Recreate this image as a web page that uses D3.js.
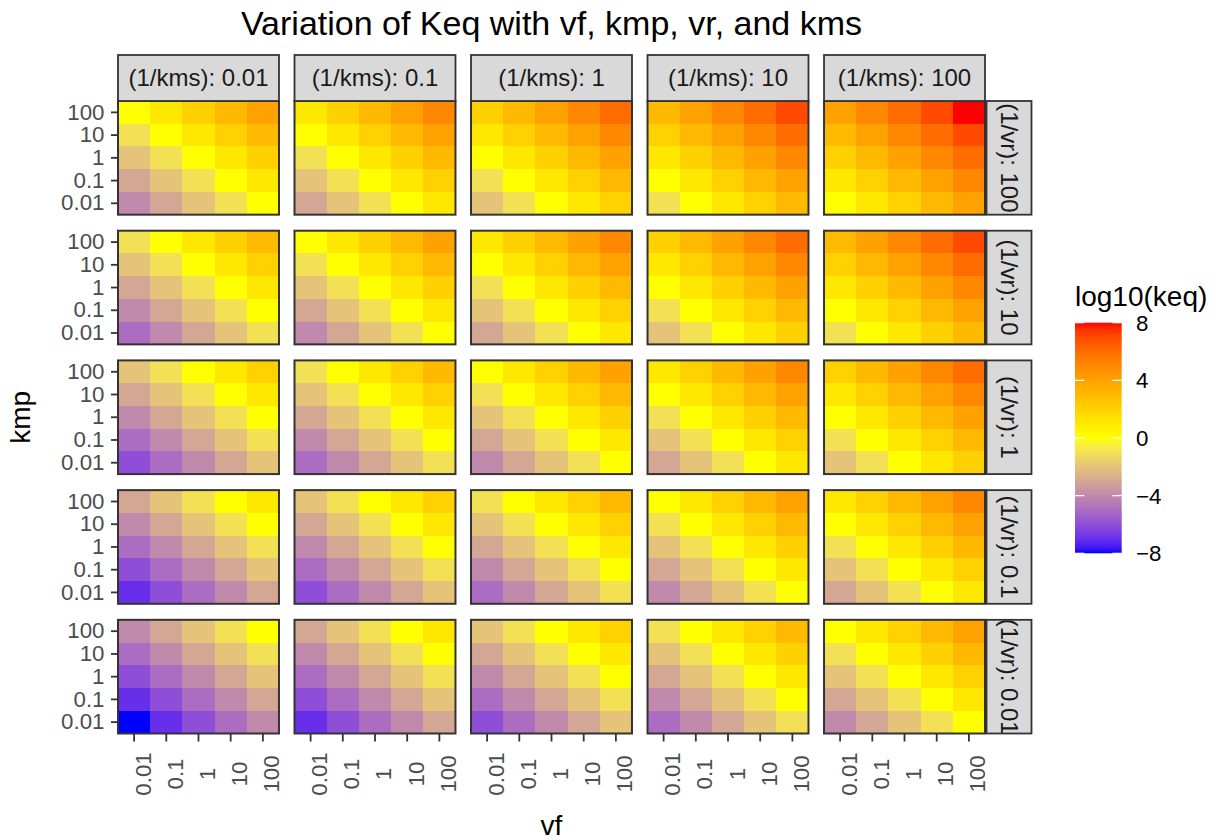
<!DOCTYPE html>
<html>
<head>
<meta charset="utf-8">
<script src="https://cdn.jsdelivr.net/npm/d3@7"></script>
<style>
body{margin:0;background:#fff}
svg{display:block;font-family:"Liberation Sans",Arial,sans-serif}
</style>
</head>
<body>
<script>

// Facets and axis levels
var vfLevels = ["0.01", "0.1", "1", "10", "100"];        // x, left to right
var kmpLevels = ["100", "10", "1", "0.1", "0.01"];       // y, top to bottom
var kmsFacets = ["0.01", "0.1", "1", "10", "100"];       // (1/kms), columns
var vrFacets = ["100", "10", "1", "0.1", "0.01"];        // (1/vr), rows
var legendBreaks = [-8, -4, 0, 4, 8];

// log10(keq) read off the tiles: one row per (1/vr, kmp) from the top,
// one column per (1/kms, vf) from the left
var logKeq = [
    [ 0, 1, 2, 3, 4,   1, 2, 3, 4, 5,   2, 3, 4, 5, 6,   3, 4, 5, 6, 7,   4, 5, 6, 7, 8],
    [-1, 0, 1, 2, 3,   0, 1, 2, 3, 4,   1, 2, 3, 4, 5,   2, 3, 4, 5, 6,   3, 4, 5, 6, 7],
    [-2,-1, 0, 1, 2,  -1, 0, 1, 2, 3,   0, 1, 2, 3, 4,   1, 2, 3, 4, 5,   2, 3, 4, 5, 6],
    [-3,-2,-1, 0, 1,  -2,-1, 0, 1, 2,  -1, 0, 1, 2, 3,   0, 1, 2, 3, 4,   1, 2, 3, 4, 5],
    [-4,-3,-2,-1, 0,  -3,-2,-1, 0, 1,  -2,-1, 0, 1, 2,  -1, 0, 1, 2, 3,   0, 1, 2, 3, 4],

    [-1, 0, 1, 2, 3,   0, 1, 2, 3, 4,   1, 2, 3, 4, 5,   2, 3, 4, 5, 6,   3, 4, 5, 6, 7],
    [-2,-1, 0, 1, 2,  -1, 0, 1, 2, 3,   0, 1, 2, 3, 4,   1, 2, 3, 4, 5,   2, 3, 4, 5, 6],
    [-3,-2,-1, 0, 1,  -2,-1, 0, 1, 2,  -1, 0, 1, 2, 3,   0, 1, 2, 3, 4,   1, 2, 3, 4, 5],
    [-4,-3,-2,-1, 0,  -3,-2,-1, 0, 1,  -2,-1, 0, 1, 2,  -1, 0, 1, 2, 3,   0, 1, 2, 3, 4],
    [-5,-4,-3,-2,-1,  -4,-3,-2,-1, 0,  -3,-2,-1, 0, 1,  -2,-1, 0, 1, 2,  -1, 0, 1, 2, 3],

    [-2,-1, 0, 1, 2,  -1, 0, 1, 2, 3,   0, 1, 2, 3, 4,   1, 2, 3, 4, 5,   2, 3, 4, 5, 6],
    [-3,-2,-1, 0, 1,  -2,-1, 0, 1, 2,  -1, 0, 1, 2, 3,   0, 1, 2, 3, 4,   1, 2, 3, 4, 5],
    [-4,-3,-2,-1, 0,  -3,-2,-1, 0, 1,  -2,-1, 0, 1, 2,  -1, 0, 1, 2, 3,   0, 1, 2, 3, 4],
    [-5,-4,-3,-2,-1,  -4,-3,-2,-1, 0,  -3,-2,-1, 0, 1,  -2,-1, 0, 1, 2,  -1, 0, 1, 2, 3],
    [-6,-5,-4,-3,-2,  -5,-4,-3,-2,-1,  -4,-3,-2,-1, 0,  -3,-2,-1, 0, 1,  -2,-1, 0, 1, 2],

    [-3,-2,-1, 0, 1,  -2,-1, 0, 1, 2,  -1, 0, 1, 2, 3,   0, 1, 2, 3, 4,   1, 2, 3, 4, 5],
    [-4,-3,-2,-1, 0,  -3,-2,-1, 0, 1,  -2,-1, 0, 1, 2,  -1, 0, 1, 2, 3,   0, 1, 2, 3, 4],
    [-5,-4,-3,-2,-1,  -4,-3,-2,-1, 0,  -3,-2,-1, 0, 1,  -2,-1, 0, 1, 2,  -1, 0, 1, 2, 3],
    [-6,-5,-4,-3,-2,  -5,-4,-3,-2,-1,  -4,-3,-2,-1, 0,  -3,-2,-1, 0, 1,  -2,-1, 0, 1, 2],
    [-7,-6,-5,-4,-3,  -6,-5,-4,-3,-2,  -5,-4,-3,-2,-1,  -4,-3,-2,-1, 0,  -3,-2,-1, 0, 1],

    [-4,-3,-2,-1, 0,  -3,-2,-1, 0, 1,  -2,-1, 0, 1, 2,  -1, 0, 1, 2, 3,   0, 1, 2, 3, 4],
    [-5,-4,-3,-2,-1,  -4,-3,-2,-1, 0,  -3,-2,-1, 0, 1,  -2,-1, 0, 1, 2,  -1, 0, 1, 2, 3],
    [-6,-5,-4,-3,-2,  -5,-4,-3,-2,-1,  -4,-3,-2,-1, 0,  -3,-2,-1, 0, 1,  -2,-1, 0, 1, 2],
    [-7,-6,-5,-4,-3,  -6,-5,-4,-3,-2,  -5,-4,-3,-2,-1,  -4,-3,-2,-1, 0,  -3,-2,-1, 0, 1],
    [-8,-7,-6,-5,-4,  -7,-6,-5,-4,-3,  -6,-5,-4,-3,-2,  -5,-4,-3,-2,-1,  -4,-3,-2,-1, 0]
];


var W = 1224, H = 840;
var gridLeft = 118, gridRight = 985, gridTop = 101, gridBottom = 733.5;
var stripH = 46, stripW = 45;
var axisText = 22.3, stripText = 24;

var svg = d3.select("body").append("svg")
    .attr("width", W)
    .attr("height", H);

// facet grid
var fx = d3.scaleBand().domain(kmsFacets).range([gridLeft, gridRight]).paddingInner(0.088);
var fy = d3.scaleBand().domain(vrFacets).range([gridTop, gridBottom]).paddingInner(0.1236);
var pw = fx.bandwidth(), ph = fy.bandwidth();

// inside one panel
var x = d3.scaleBand().domain(vfLevels).range([0, pw]);
var y = d3.scaleBand().domain(kmpLevels).range([0, ph]);

// ggplot-like scale_fill_gradient2 (Lab interpolation)
var color = d3.scaleLinear()
    .domain([-8, 0, 8])
    .range(["#0000ff", "#ffff00", "#ff0000"])
    .interpolate(d3.interpolateLab);

var panels = [];
vrFacets.forEach(function(vr, i) {
    kmsFacets.forEach(function(kms, j) {
        var cells = [];
        kmpLevels.forEach(function(kmp, a) {
            vfLevels.forEach(function(vf, b) {
                cells.push({kmp: kmp, vf: vf, value: logKeq[i * 5 + a][j * 5 + b]});
            });
        });
        panels.push({vr: vr, kms: kms, row: i, col: j, cells: cells});
    });
});

var panel = svg.selectAll("g.panel")
    .data(panels)
    .enter().append("g")
    .attr("class", "panel")
    .attr("transform", function(d) { return "translate(" + fx(d.kms) + "," + fy(d.vr) + ")"; });

panel.selectAll("rect.tile")
    .data(function(d) { return d.cells; })
    .enter().append("rect")
    .attr("class", "tile")
    .attr("x", function(d) { return x(d.vf); })
    .attr("y", function(d) { return y(d.kmp); })
    .attr("width", x.bandwidth() + 0.5)
    .attr("height", y.bandwidth() + 0.5)
    .attr("fill", function(d) { return color(d.value); })
    .attr("shape-rendering", "crispEdges");

panel.append("rect")
    .attr("width", pw)
    .attr("height", ph)
    .attr("fill", "none")
    .attr("stroke", "#333333")
    .attr("stroke-width", 2);

// y axes on the first column
panel.filter(function(d) { return d.col === 0; })
    .append("g")
    .each(function() {
        var g = d3.select(this).call(d3.axisLeft(y).tickSize(7).tickPadding(6.5));
        g.attr("font-family", null).attr("font-size", null);
        g.select(".domain").remove();
        g.selectAll("line").attr("stroke", "#333333").attr("stroke-width", 1.8);
        g.selectAll("text").attr("fill", "#4d4d4d").style("font-size", axisText + "px");
    });

// x axes on the bottom row, labels turned 90 degrees
panel.filter(function(d) { return d.row === vrFacets.length - 1; })
    .append("g")
    .attr("transform", "translate(0," + ph + ")")
    .each(function() {
        var g = d3.select(this).call(d3.axisBottom(x).tickSize(8));
        g.attr("font-family", null).attr("font-size", null);
        g.select(".domain").remove();
        g.selectAll("line").attr("stroke", "#333333").attr("stroke-width", 1.8);
        g.selectAll("text")
            .attr("y", null)
            .attr("dy", null)
            .attr("text-anchor", "middle")
            .attr("transform", "translate(16.5,40.5) rotate(-90)")
            .attr("fill", "#4d4d4d")
            .style("font-size", axisText + "px");
    });

// strips on top
var topStrip = svg.selectAll("g.topstrip")
    .data(kmsFacets)
    .enter().append("g")
    .attr("class", "topstrip")
    .attr("transform", function(d) { return "translate(" + fx(d) + "," + (gridTop - stripH) + ")"; });

topStrip.append("rect")
    .attr("width", pw)
    .attr("height", stripH)
    .attr("fill", "#d9d9d9")
    .attr("stroke", "#333333")
    .attr("stroke-width", 1.8);

topStrip.append("text")
    .attr("x", pw / 2)
    .attr("y", stripH / 2)
    .attr("dy", "0.35em")
    .attr("text-anchor", "middle")
    .attr("fill", "#1a1a1a")
    .style("font-size", stripText + "px")
    .text(function(d) { return "(1/kms): " + d; });

// strips on the right, text clipped to the box
var defs = svg.append("defs");
defs.append("clipPath").attr("id", "rclip")
    .append("rect").attr("width", stripW).attr("height", ph);

var rightStrip = svg.selectAll("g.rightstrip")
    .data(vrFacets)
    .enter().append("g")
    .attr("class", "rightstrip")
    .attr("transform", function(d) { return "translate(" + (gridRight + 1.5) + "," + fy(d) + ")"; });

rightStrip.append("rect")
    .attr("width", stripW)
    .attr("height", ph)
    .attr("fill", "#d9d9d9");

rightStrip.append("g")
    .attr("clip-path", "url(#rclip)")
    .append("text")
    .attr("transform", "translate(" + (stripW / 2) + "," + (ph / 2) + ") rotate(90)")
    .attr("dy", "0.35em")
    .attr("text-anchor", "middle")
    .attr("fill", "#1a1a1a")
    .style("font-size", stripText + "px")
    .text(function(d) { return "(1/vr): " + d; });

rightStrip.append("rect")
    .attr("width", stripW)
    .attr("height", ph)
    .attr("fill", "none")
    .attr("stroke", "#333333")
    .attr("stroke-width", 1.8);

// titles
var midX = (gridLeft + gridRight) / 2;
svg.append("text")
    .attr("x", midX)
    .attr("y", 35)
    .attr("text-anchor", "middle")
    .attr("fill", "#000")
    .style("font-size", "34px")
    .text("Variation of Keq with vf, kmp, vr, and kms");

svg.append("text")
    .attr("x", midX)
    .attr("y", 835)
    .attr("text-anchor", "middle")
    .attr("fill", "#000")
    .style("font-size", "28px")
    .text("vf");

svg.append("text")
    .attr("transform", "translate(30," + ((gridTop + gridBottom) / 2) + ") rotate(-90)")
    .attr("text-anchor", "middle")
    .attr("fill", "#000")
    .style("font-size", "28px")
    .text("kmp");

// colour bar legend
var lx = 1075, lw = 46.7, ly0 = 322.7, ly1 = 553.3;
var ly = d3.scaleLinear().domain([-8, 8]).range([ly1, ly0]);

var grad = defs.append("linearGradient")
    .attr("id", "keqgrad")
    .attr("x1", 0).attr("y1", 1).attr("x2", 0).attr("y2", 0);
grad.selectAll("stop")
    .data(d3.range(0, 41))
    .enter().append("stop")
    .attr("offset", function(d) { return d / 40; })
    .attr("stop-color", function(d) { return color(-8 + d * 16 / 40); });

svg.append("rect")
    .attr("x", lx)
    .attr("y", ly0)
    .attr("width", lw)
    .attr("height", ly1 - ly0)
    .attr("fill", "url(#keqgrad)");

var tick = svg.selectAll("g.ltick")
    .data(legendBreaks)
    .enter().append("g")
    .attr("class", "ltick")
    .attr("transform", function(d) { return "translate(0," + ly(d) + ")"; });

tick.append("line")
    .attr("x1", lx).attr("x2", lx + lw / 5)
    .attr("stroke", "#fff").attr("stroke-width", 1.2);
tick.append("line")
    .attr("x1", lx + lw - lw / 5).attr("x2", lx + lw)
    .attr("stroke", "#fff").attr("stroke-width", 1.2);
tick.append("text")
    .attr("x", 1136)
    .attr("dy", "0.36em")
    .attr("fill", "#000")
    .style("font-size", axisText + "px")
    .text(d3.format("d"));

svg.append("text")
    .attr("x", lx)
    .attr("y", 305.5)
    .attr("fill", "#000")
    .style("font-size", "28px")
    .text("log10(keq)");

</script>
</body>
</html>
